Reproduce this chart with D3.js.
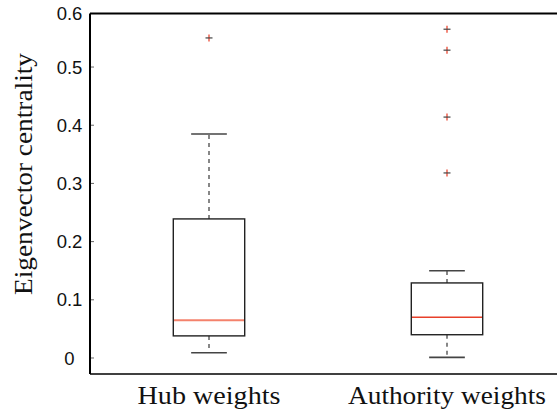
<!DOCTYPE html>
<html>
<head>
<meta charset="utf-8">
<script src="https://cdn.jsdelivr.net/npm/d3@7"></script>
<style>
  html, body { margin: 0; padding: 0; background: #fff; }
  svg { display: block; }
</style>
</head>
<body>
<svg id="chart" width="557" height="413"></svg>
<script>
// Box plot summaries of eigenvector centrality per weighting scheme
const categories = ["Hub weights", "Authority weights"];
const whiskerLow  = [0.009, 0.001];
const quartile1   = [0.038, 0.040];
const medians     = [0.065, 0.070];
const quartile3   = [0.239, 0.129];
const whiskerHigh = [0.385, 0.150];
const outliers    = [[0.550], [0.565, 0.529, 0.414, 0.318]];
const yTicks      = [0, 0.1, 0.2, 0.3, 0.4, 0.5, 0.6];
const yTickLabels = ["0", "0.1", "0.2", "0.3", "0.4", "0.5", "0.6"];
const medianColors = ["#f4826c", "#e8402a"];
const medianWidths = [2, 1.3];

const svg = d3.select("#chart");

// x runs over category positions 1..n with half a unit of margin on each side
const x = d3.scaleLinear().domain([0.5, 2.5]).range([90, 566]);
const y = d3.scaleLinear().domain([-0.0275, 0.592]).range([374, 13.5]).clamp(true);

const boxW = x(1.3) - x(1);
const capW = x(1.15) - x(1);

const serif = "'Liberation Serif', 'Times New Roman', serif";
const sans = "'Liberation Sans', Arial, Helvetica, sans-serif";

// y ticks (inward) and labels
const yAxis = svg.append("g");
yAxis.selectAll("line.tick").data(yTicks).join("line")
  .attr("x1", x(0.5)).attr("x2", x(0.5) + 4)
  .attr("y1", d => y(d)).attr("y2", d => y(d))
  .attr("stroke", "#666").attr("stroke-width", 1);
yAxis.selectAll("text").data(yTicks).join("text")
  .attr("x", 69.5)
  .attr("y", d => y(d))
  .attr("dy", "0.36em")
  .attr("text-anchor", "middle")
  .attr("font-family", sans)
  .attr("font-size", 18.5)
  .attr("fill", "#111")
  .text((d, i) => yTickLabels[i]);

// frame: left, top and bottom edges (right edge lies past the canvas)
svg.append("line").attr("x1", x(0.5)).attr("x2", x(0.5)).attr("y1", y.range()[1]).attr("y2", y.range()[0])
  .attr("stroke", "#000").attr("stroke-width", 2);
svg.append("line").attr("x1", x(0.5)).attr("x2", x(2.5)).attr("y1", y.range()[1]).attr("y2", y.range()[1])
  .attr("stroke", "#000").attr("stroke-width", 2);
svg.append("line").attr("x1", x(0.5)).attr("x2", x(2.5)).attr("y1", y.range()[0]).attr("y2", y.range()[0])
  .attr("stroke", "#000").attr("stroke-width", 1.6);

const boxes = svg.selectAll("g.box").data(categories).join("g").attr("class", "box");

boxes.each(function (c, i) {
  const g = d3.select(this);
  const cx = x(i + 1);
  // whiskers
  g.append("line").attr("x1", cx).attr("x2", cx)
    .attr("y1", y(quartile3[i])).attr("y2", y(whiskerHigh[i]))
    .attr("stroke", "#555").attr("stroke-width", 1.4).attr("stroke-dasharray", "4,4");
  g.append("line").attr("x1", cx).attr("x2", cx)
    .attr("y1", y(quartile1[i])).attr("y2", y(whiskerLow[i]))
    .attr("stroke", "#555").attr("stroke-width", 1.4).attr("stroke-dasharray", "4,4");
  // caps
  [whiskerHigh[i], whiskerLow[i]].forEach(v => {
    g.append("line").attr("x1", cx - capW / 2).attr("x2", cx + capW / 2)
      .attr("y1", y(v)).attr("y2", y(v))
      .attr("stroke", "#444").attr("stroke-width", 1.6);
  });
  // box
  g.append("rect")
    .attr("x", cx - boxW / 2).attr("width", boxW)
    .attr("y", y(quartile3[i])).attr("height", y(quartile1[i]) - y(quartile3[i]))
    .attr("fill", "none").attr("stroke", "#222").attr("stroke-width", 1.4);
  // median
  g.append("line").attr("x1", cx - boxW / 2 + 0.7).attr("x2", cx + boxW / 2 - 0.7)
    .attr("y1", y(medians[i])).attr("y2", y(medians[i]))
    .attr("stroke", medianColors[i]).attr("stroke-width", medianWidths[i]);
  // outliers drawn as plus marks
  outliers[i].forEach(v => {
    g.append("line").attr("x1", cx).attr("x2", cx)
      .attr("y1", y(v) - 3.5).attr("y2", y(v) + 3.5)
      .attr("stroke", "#f06a58").attr("stroke-width", 1.6);
    g.append("line").attr("x1", cx - 3.5).attr("x2", cx + 3.5)
      .attr("y1", y(v)).attr("y2", y(v))
      .attr("stroke", "#444").attr("stroke-width", 1.2);
  });
  // category label
  g.append("text")
    .attr("x", cx).attr("y", 404)
    .attr("text-anchor", "middle")
    .attr("font-family", serif).attr("font-size", 25)
    .attr("textLength", i === 0 ? 143 : 198)
    .attr("lengthAdjust", "spacingAndGlyphs")
    .attr("fill", "#111")
    .text(c);
});

// y axis title
svg.append("text")
  .attr("transform", "translate(32,174) rotate(-90)")
  .attr("text-anchor", "middle")
  .attr("font-family", serif).attr("font-size", 25)
  .attr("textLength", 242)
  .attr("lengthAdjust", "spacingAndGlyphs")
  .attr("fill", "#111")
  .text("Eigenvector centrality");
</script>
</body>
</html>
